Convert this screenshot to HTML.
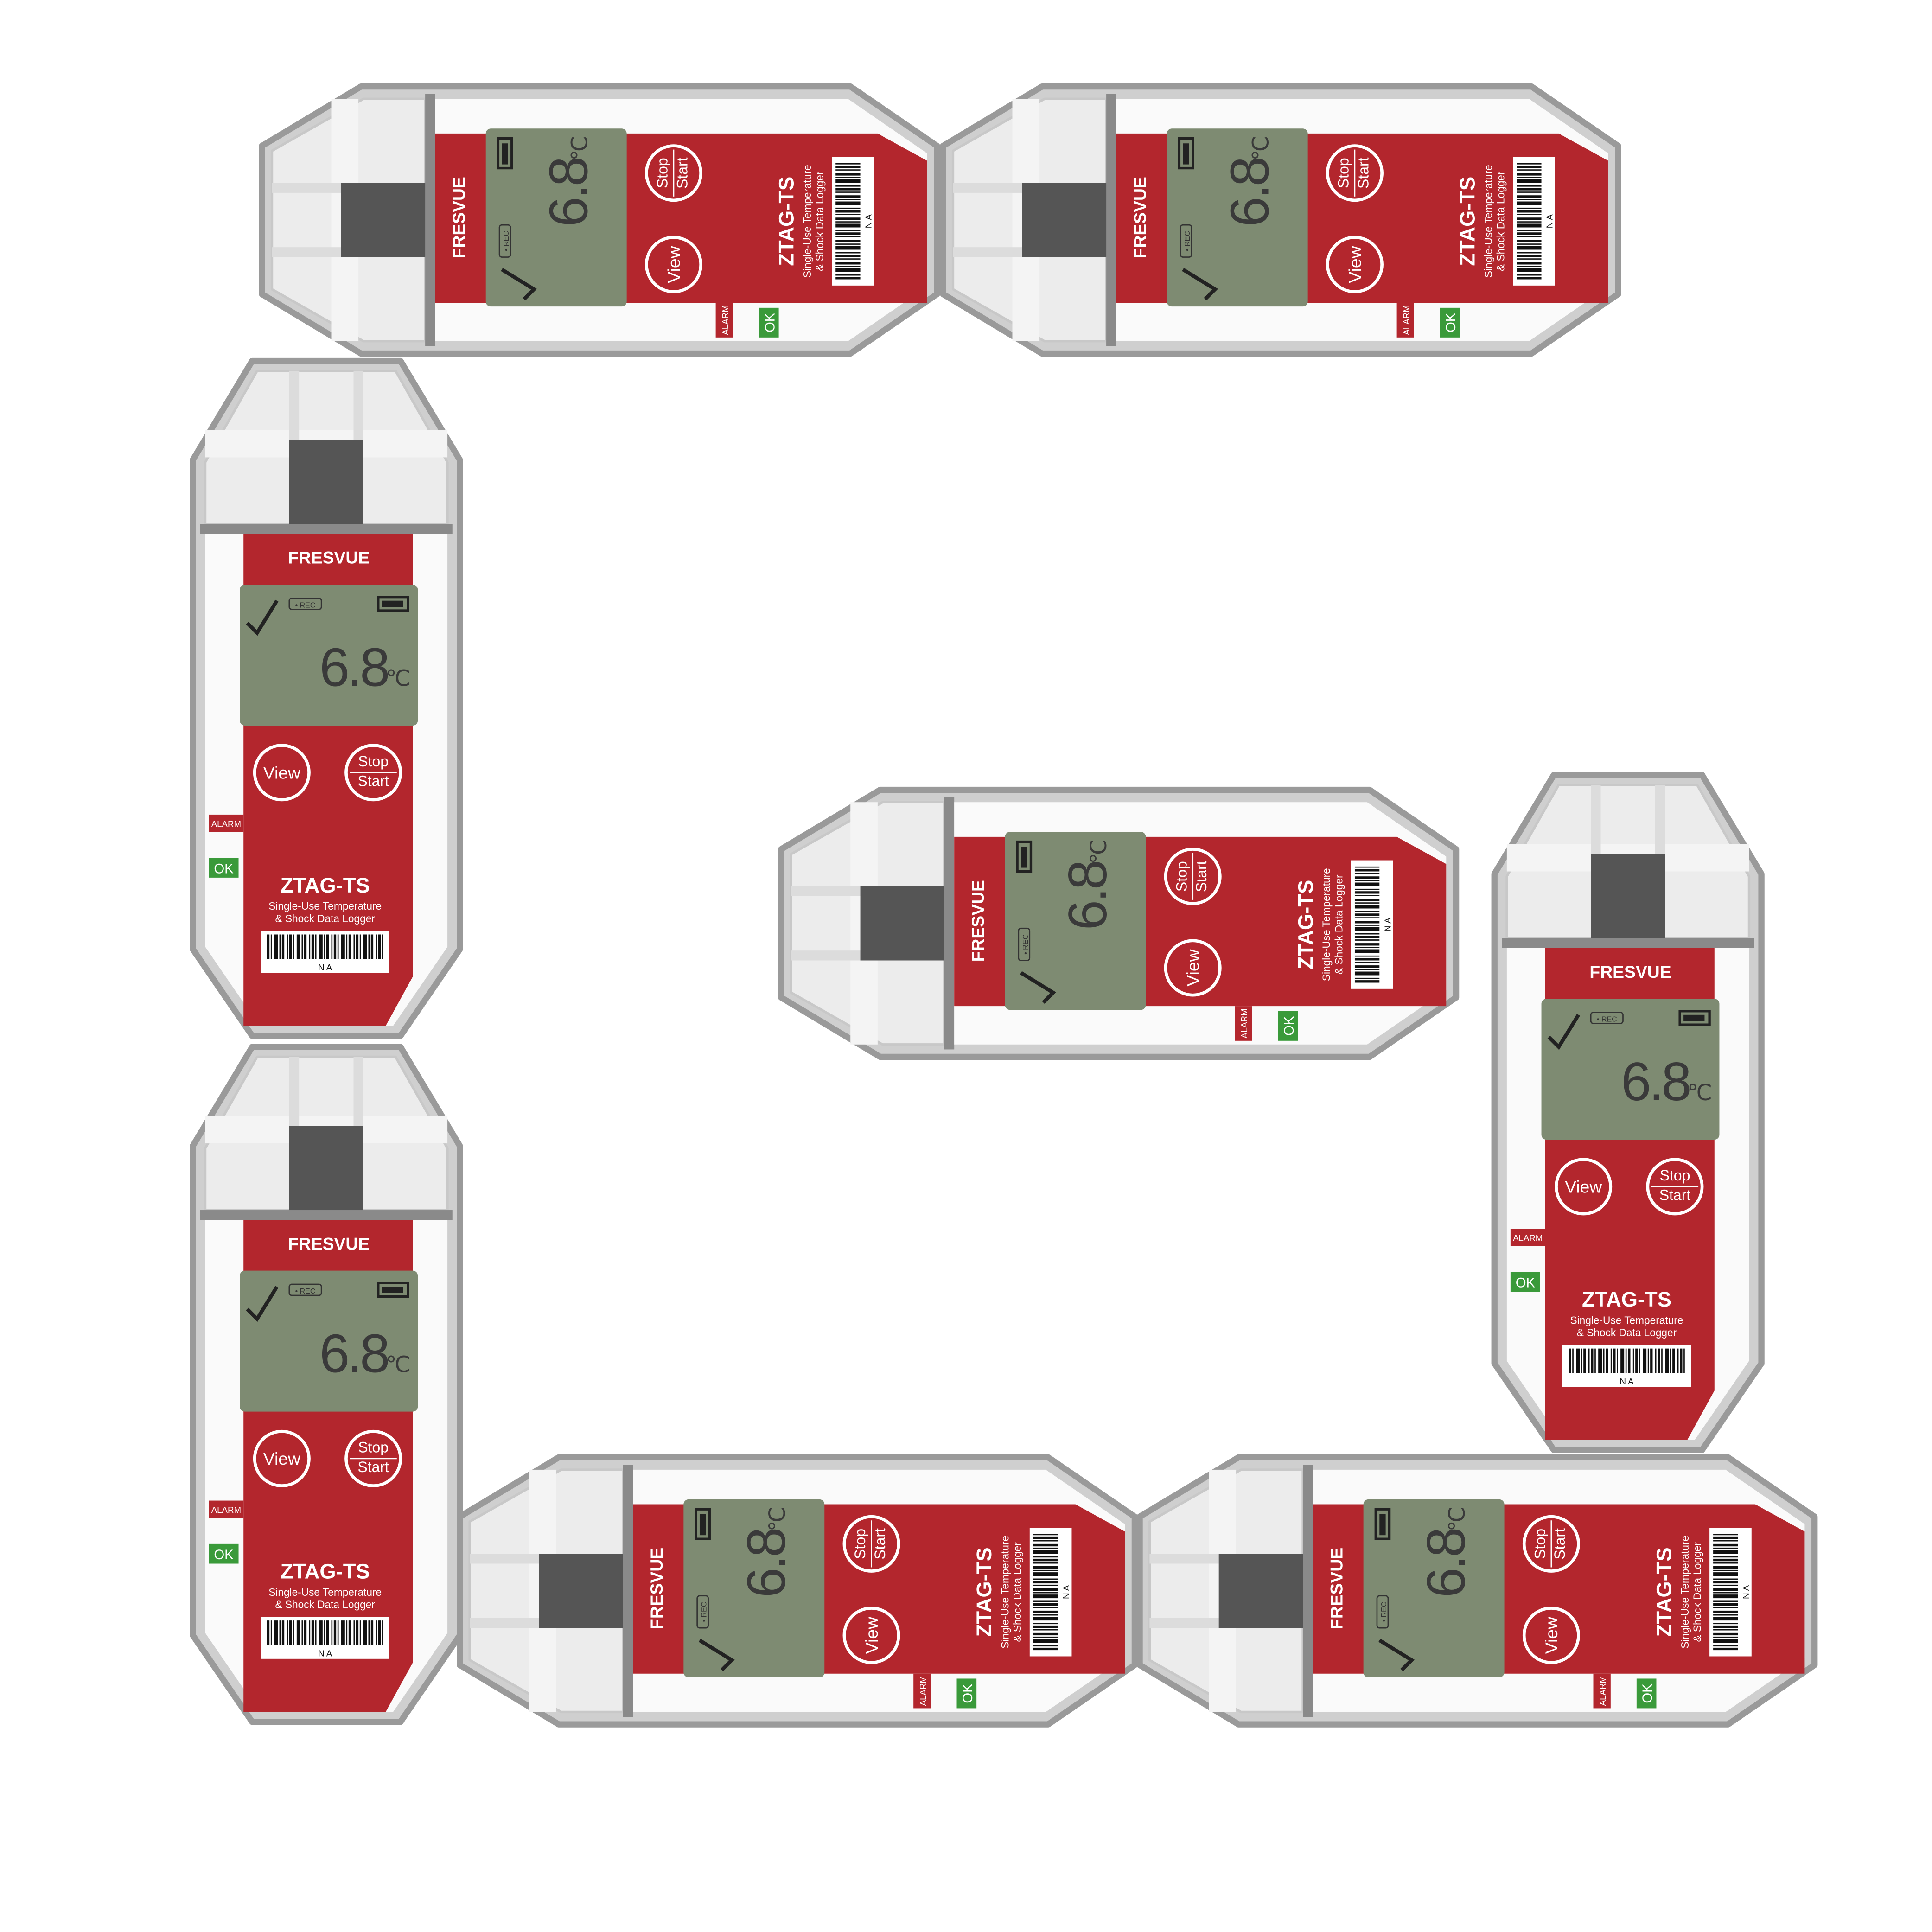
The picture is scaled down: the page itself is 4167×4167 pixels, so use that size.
<!DOCTYPE html>
<html><head><meta charset="utf-8"><style>
html,body{margin:0;padding:0;background:#fff;}
svg{display:block;}
text{font-family:"Liberation Sans",sans-serif;}
</style></head><body>
<svg width="4167" height="4167" viewBox="0 0 1563 1563" xmlns="http://www.w3.org/2000/svg">
<defs>
<g id="dev">
  <path d="M52,2 L172,2 L220,82 L220,478 L172,548 L52,548 L4,478 L4,82 Z" fill="#cfcfcf" stroke="#9a9a9a" stroke-width="5" stroke-linejoin="round"/>
  <path d="M56,10 L168,10 L210,84 L210,134 L14,134 L14,84 Z" fill="#ececec" stroke="#c8c8c8" stroke-width="2" stroke-linejoin="round"/>
  <rect x="14" y="58" width="196" height="22" fill="#f4f4f4"/>
  <rect x="82" y="10" width="8" height="124" fill="#dcdcdc"/>
  <rect x="134" y="10" width="8" height="124" fill="#dcdcdc"/>
  <rect x="82" y="66" width="60" height="70" fill="#555"/>
  <rect x="10" y="134" width="204" height="8" fill="#8a8a8a"/>
  <path d="M14,142 L210,142 L210,476 L166,540 L58,540 L14,476 Z" fill="#fafafa"/>
  <path d="M45,142 L182,142 L182,500 L160,540 L45,540 Z" fill="#b3262d"/>
  <text x="114" y="166" fill="#fff" font-size="14" font-weight="bold" text-anchor="middle">FRESVUE</text>
  <rect x="42" y="183" width="144" height="114" rx="4" fill="#7e8b72"/>
  <path d="M48,214 L56,222 L72,196" stroke="#222" stroke-width="3" fill="none"/>
  <rect x="82" y="194" width="26" height="9" rx="2" fill="none" stroke="#333" stroke-width="1"/>
  <text x="95" y="201.5" font-size="6" fill="#333" text-anchor="middle">• REC</text>
  <rect x="154" y="193" width="24" height="11" fill="none" stroke="#222" stroke-width="2"/>
  <rect x="157" y="196" width="17" height="5" fill="#222"/>
  <text x="134" y="265" font-size="44" fill="#3a3a3a" text-anchor="middle" letter-spacing="-2">6.8</text>
  <text x="160" y="265" font-size="18" fill="#3a3a3a">℃</text>
  <circle cx="76" cy="335" r="22" fill="none" stroke="#fff" stroke-width="2.5"/>
  <text x="76" y="340" font-size="14" fill="#fff" text-anchor="middle">View</text>
  <circle cx="150" cy="335" r="22" fill="none" stroke="#fff" stroke-width="2.5"/>
  <text x="150" y="330" font-size="12" fill="#fff" text-anchor="middle">Stop</text>
  <text x="150" y="346" font-size="12" fill="#fff" text-anchor="middle">Start</text>
  <line x1="131" y1="335" x2="169" y2="335" stroke="#fff" stroke-width="1"/>
  <rect x="17" y="369" width="28" height="14" fill="#b3262d"/>
  <text x="31" y="379" font-size="7" fill="#fff" text-anchor="middle">ALARM</text>
  <rect x="17" y="404" width="24" height="16" fill="#3a9a3a"/>
  <text x="29" y="416.5" font-size="11" fill="#fff" text-anchor="middle">OK</text>
  <text x="111" y="432" font-size="17" fill="#fff" font-weight="bold" text-anchor="middle">ZTAG-TS</text>
  <text x="111" y="446" font-size="8.5" fill="#fff" text-anchor="middle">Single-Use Temperature</text>
  <text x="111" y="456" font-size="8.5" fill="#fff" text-anchor="middle">&amp; Shock Data Logger</text>
  <rect x="59" y="463" width="104" height="34" fill="#fff"/>
  <line x1="64" y1="476" x2="158" y2="476" stroke="#111" stroke-width="20" stroke-dasharray="2 1 1 2 3 1 1 1 2 2 1 1"/>
  <text x="111" y="495" font-size="7" fill="#111" text-anchor="middle">N A</text>
</g>
</defs>
<use href="#dev" x="152" y="290"/>
<use href="#dev" x="152" y="845"/>
<use href="#dev" x="1205" y="625"/>
<use href="#dev" transform="translate(210,290) rotate(-90)"/>
<use href="#dev" transform="translate(761,290) rotate(-90)"/>
<use href="#dev" transform="translate(630,859) rotate(-90)"/>
<use href="#dev" transform="translate(370,1399) rotate(-90)"/>
<use href="#dev" transform="translate(920,1399) rotate(-90)"/>
</svg>
</body></html>
